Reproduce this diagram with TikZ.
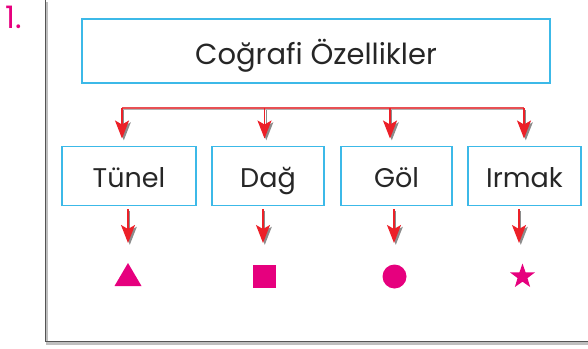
\documentclass[tikz,border=0pt]{standalone}
\usepackage{fontspec}
\setmainfont{Poppins}
\usetikzlibrary{arrows.meta,shapes.geometric}
\definecolor{boxblue}{RGB}{60,185,232}
\definecolor{arrred}{RGB}{236,32,40}
\definecolor{linered}{RGB}{232,80,84}
\definecolor{mag}{RGB}{230,0,126}
\definecolor{frame}{RGB}{85,85,85}
\tikzset{
  box/.style={draw=boxblue, line width=1.2pt, inner sep=0pt, font=\fontsize{27}{30}\selectfont, text=black!85,
    text height=24pt, text depth=2pt},
  arr/.style={draw=arrred, line width=1.3pt, -{Stealth[length=18pt,width=14pt,inset=4pt]},
    preaction={draw=black!45, line width=1.3pt, transform canvas={shift={(1.8pt,-1.8pt)}}}},
  conn/.style={draw=linered, line width=1.5pt,
    preaction={draw=black!30, line width=1.3pt, transform canvas={shift={(0pt,-1.4pt)}}}},
  sym/.style={fill=mag, draw=none, inner sep=0pt},
  framel/.style={draw=frame, line width=1.6pt,
    preaction={draw=black!25, line width=2.5pt, transform canvas={shift={(1.5pt,-1.8pt)}}}},
}
\begin{document}
\begin{tikzpicture}[x=1pt,y=-1pt]
\useasboundingbox (0,0) rectangle (588,348);
% frame
\coordinate (ftop) at (45.5,0);
\coordinate (fcorner) at (45.5,341.5);
\coordinate (fright) at (588,341.5);
\draw[framel] (ftop) -- (fcorner) -- (fright);
\node[text=mag, font=\fontsize{31}{34}\selectfont, anchor=center] (num) at (14,17) {1.};
% top box
\node[box, font=\fontsize{29}{32}\selectfont, text height=27pt, text depth=0pt, minimum width=468pt, minimum height=64pt] (top) at (316,51) {Coğrafi Özellikler};
% boxes
\node[box, minimum width=134pt, minimum height=59pt] (tunel) at (129,176) {Tünel};
\node[box, minimum width=112pt, minimum height=59pt] (dag) at (268,176) {Dağ};
\node[box, minimum width=111pt, minimum height=59pt] (gol) at (396.5,176) {Göl};
\node[box, minimum width=113pt, minimum height=59pt] (irmak) at (524.5,176) {Irmak};
% top connectors
\coordinate (h1) at (122,108);
\coordinate (h2) at (264.5,108);
\coordinate (h3) at (390,108);
\coordinate (h4) at (524,108);
\coordinate (e1) at (122,138.5);
\coordinate (e2) at (264.5,138.5);
\coordinate (e3) at (390,138.5);
\coordinate (e4) at (524,138.5);
\draw[conn] (h1) -- (h4);
\draw[arr] (h1) -- (e1);
\draw[arr] (h2) -- (e2);
\draw[arr] (h3) -- (e3);
\draw[arr] (h4) -- (e4);
% lower arrows
\coordinate (s1) at (128,209);
\coordinate (s2) at (263,209);
\coordinate (s3) at (394,209);
\coordinate (s4) at (519,209);
\coordinate (t1) at (128,243);
\coordinate (t2) at (263,243);
\coordinate (t3) at (394,243);
\coordinate (t4) at (519,243);
\draw[arr] (s1) -- (t1);
\draw[arr] (s2) -- (t2);
\draw[arr] (s3) -- (t3);
\draw[arr] (s4) -- (t4);
% symbols
\fill[mag] (114.5,286) -- (141.5,286) -- (128,263) -- cycle;
\node[sym, minimum size=23pt] (square) at (264,276.5) {};
\node[sym, circle, minimum size=24pt] (circ) at (394.5,276.5) {};
\node[sym, star, star points=5, star point ratio=2.5, minimum size=26pt] (starn) at (522.5,276.5) {};
\end{tikzpicture}
\end{document}
